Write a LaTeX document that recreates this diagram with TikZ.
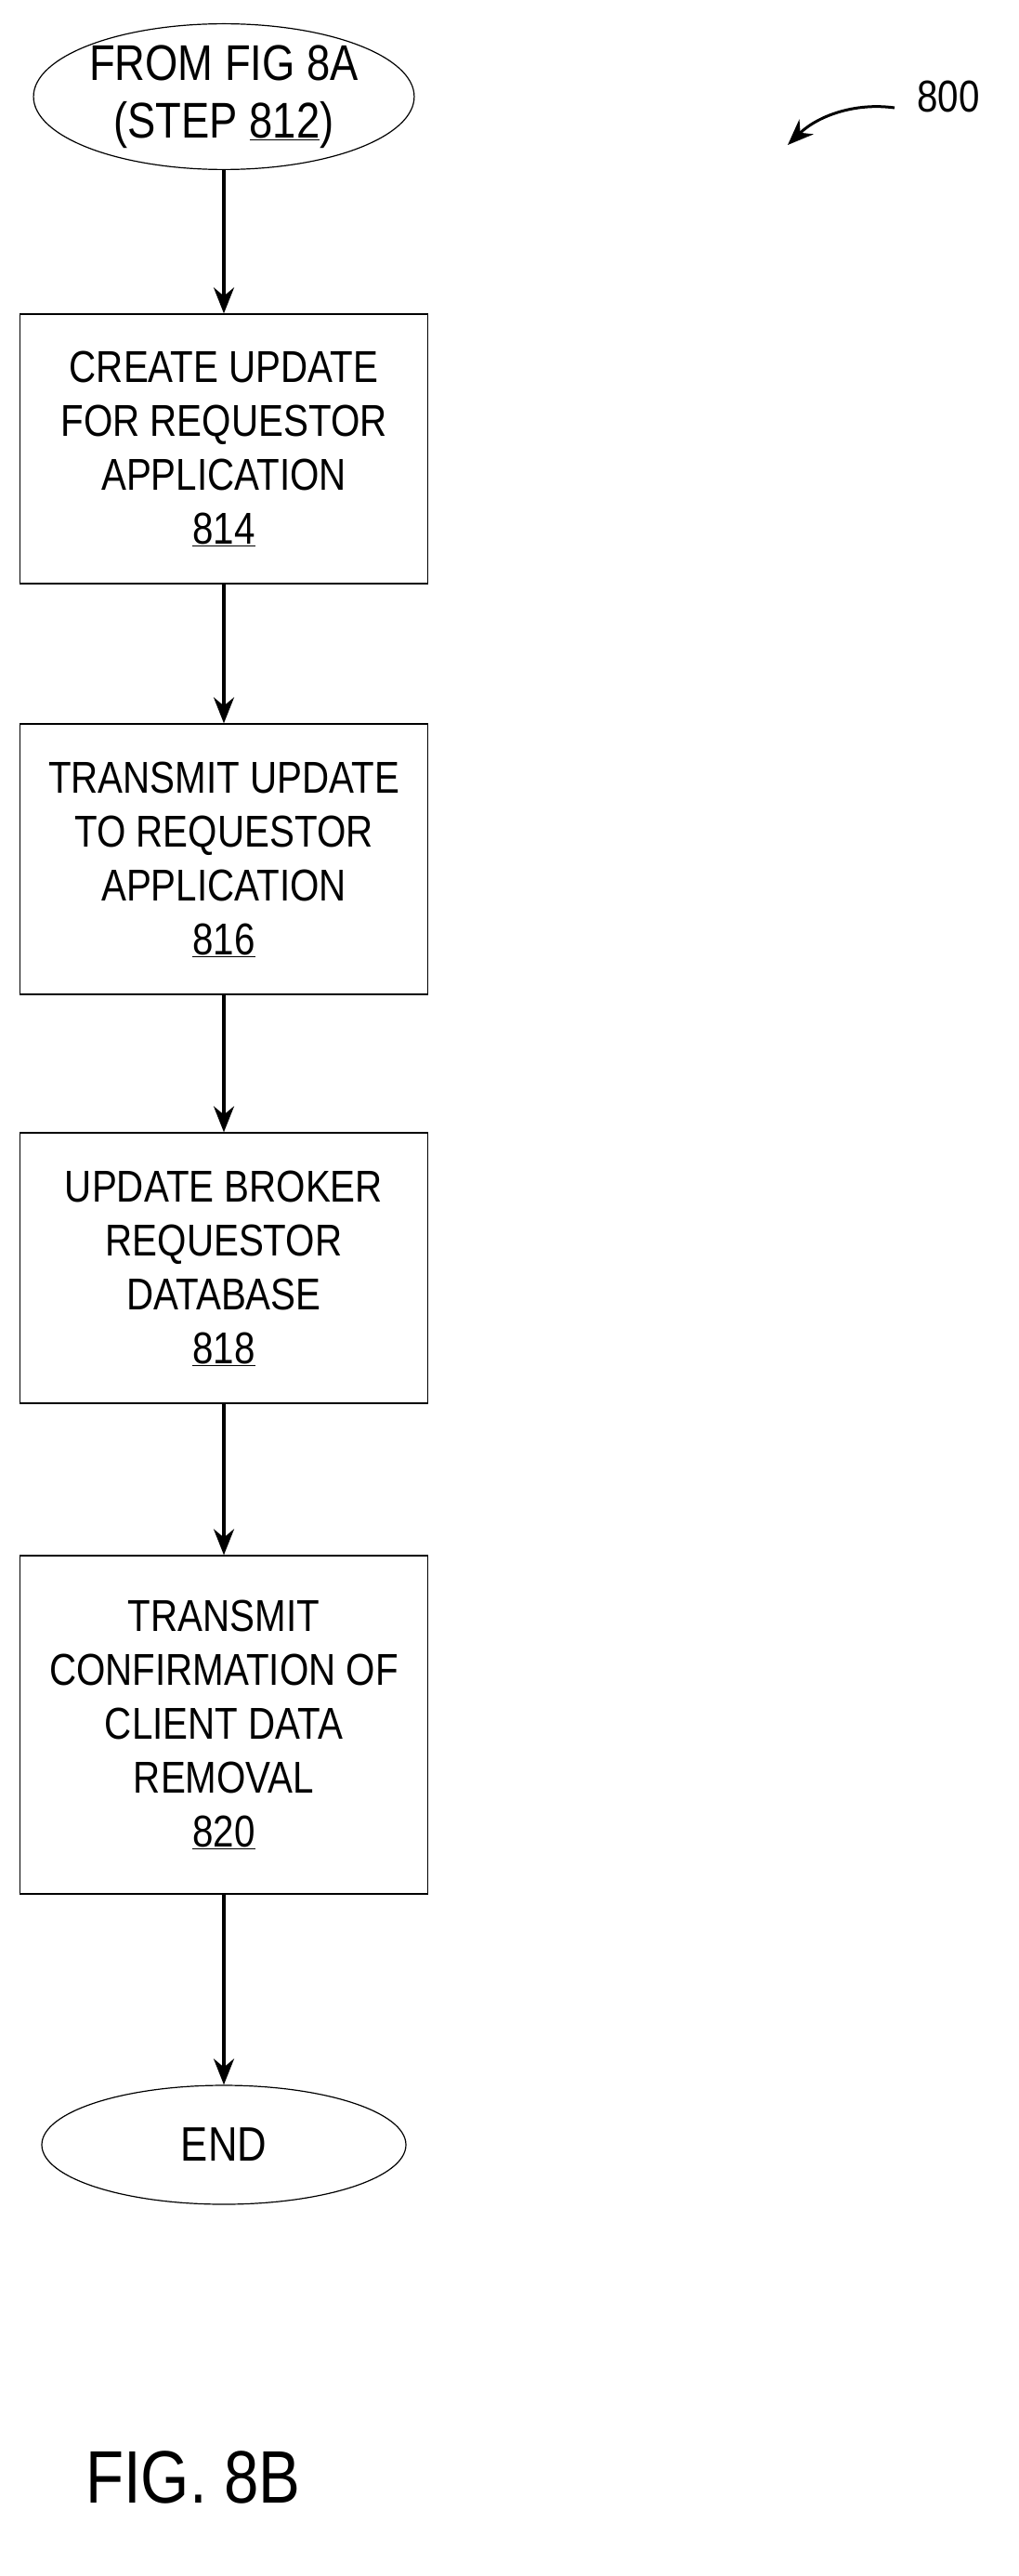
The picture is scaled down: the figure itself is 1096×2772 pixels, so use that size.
\documentclass[tikz,border=0pt]{standalone}
\usepackage{fontspec}
\setmainfont{Liberation Sans}[FakeStretch=0.84]
\usetikzlibrary{shapes.geometric,arrows.meta}
\begin{document}
\begin{tikzpicture}[x=1pt,y=-1pt,
  every node/.style={font=\fontsize{48}{58}\selectfont, align=center},
  stepbox/.style={draw, line width=1.2pt, minimum width=439pt, inner sep=0pt},
  term/.style={draw, ellipse, line width=1.2pt, minimum width=392pt, minimum height=130pt, inner sep=0pt},
  flow/.style={-{Stealth[length=28pt,width=22pt]}, line width=3.5pt}]
\useasboundingbox (0,0) rectangle (1096,2772);
\node[term, font=\fontsize{54}{62}\selectfont] (start) at (241,104) {FROM FIG 8A\\(STEP \underline{812})};
\node[stepbox, minimum height=290pt] (s814) at (241,483) {CREATE UPDATE\\FOR REQUESTOR\\APPLICATION\\\underline{814}};
\node[stepbox, minimum height=291pt] (s816) at (241,924.5) {TRANSMIT UPDATE\\TO REQUESTOR\\APPLICATION\\\underline{816}};
\node[stepbox, minimum height=291pt] (s818) at (241,1364.5) {UPDATE BROKER\\REQUESTOR\\DATABASE\\\underline{818}};
\node[stepbox, minimum height=364pt] (s820) at (241,1856) {TRANSMIT\\CONFIRMATION OF\\CLIENT DATA\\REMOVAL\\\underline{820}};
\node[term, minimum height=128pt, font=\fontsize{52}{60}\selectfont] (end) at (241,2308) {END};
\draw[flow] (start) -- (s814);
\draw[flow] (s814) -- (s816);
\draw[flow] (s816) -- (s818);
\draw[flow] (s818) -- (s820);
\draw[flow] (s820) -- (end);
\node (ref) at (1021,104) {800};
\coordinate (a1) at (963,116);
\coordinate (a2) at (848,156);
\draw[flow, line width=3pt] (a1) .. controls (920,110) and (880,125) .. (a2);
\node[font=\fontsize{80}{90}\selectfont] (fig) at (208,2666) {FIG. 8B};
\end{tikzpicture}
\end{document}
